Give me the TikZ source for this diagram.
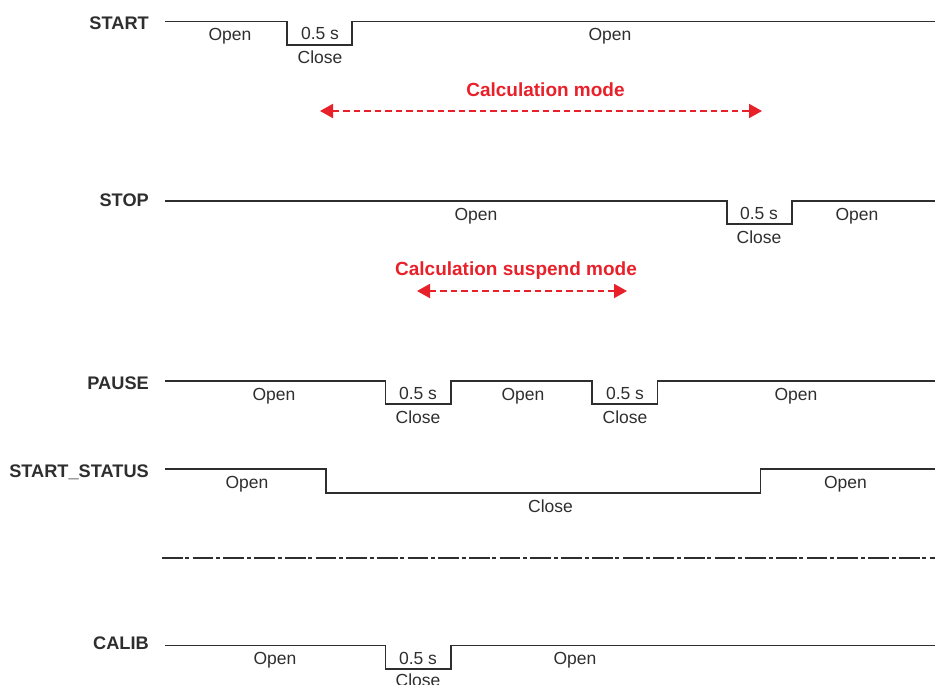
\documentclass[tikz,border=0pt]{standalone}
\usepackage{fontspec}
\setmainfont{Liberation Sans}
\usetikzlibrary{arrows.meta}
\usepackage{xcolor}
\definecolor{ink}{HTML}{2E2E2E}
\definecolor{modered}{HTML}{E8202A}
\newcommand{\sigfont}{\fontsize{17.5}{21}\selectfont}

\begin{document}
\begin{tikzpicture}[
    x=1pt, y=-1pt,
    wave/.style={draw=ink, line width=1.9pt},
    sig/.style={font=\fontsize{18.2}{21}\selectfont\bfseries, text=ink, anchor=base east, inner sep=0pt},
    lvl/.style={font=\sigfont, text=ink, anchor=base, inner sep=0pt},
    mode/.style={font=\fontsize{19}{22}\selectfont\bfseries, text=modered, anchor=base, inner sep=0pt},
    span/.style={{Triangle[length=13pt, width=14pt]}-{Triangle[length=13pt, width=14pt]}, draw=modered, line width=2pt, dash pattern=on 6.5pt off 4pt}
]
\useasboundingbox (0,0) rectangle (935,685);

% START
\node[sig] (start) at (149,29.3) {START};
\draw[wave] (165,21.5) -- (287,21.5) -- (287,45) -- (352,45) -- (352,21.5) -- (935,21.5);
\node[lvl] (start-open1) at (230,40.5) {Open};
\node[lvl] (start-dur) at (320,40) {0.5 s};
\node[lvl] (start-close) at (320,63.5) {Close};
\node[lvl] (start-open2) at (610,40.5) {Open};

% Calculation mode
\node[mode] (calc-text) at (545.5,96) {Calculation mode};
\coordinate (calc-l) at (320,111);
\coordinate (calc-r) at (762,111);
\draw[span] (calc-l) -- (calc-r);

% STOP
\node[sig] (stop) at (149,206) {STOP};
\draw[wave] (165,201) -- (727,201) -- (727,224) -- (792,224) -- (792,201) -- (935,201);
\node[lvl] (stop-open1) at (476,220) {Open};
\node[lvl] (stop-dur) at (759,219.5) {0.5 s};
\node[lvl] (stop-close) at (759,243) {Close};
\node[lvl] (stop-open2) at (857,220) {Open};

% Calculation suspend mode
\node[mode] (susp-text) at (516,275) {Calculation suspend mode};
\coordinate (susp-l) at (417,291);
\coordinate (susp-r) at (627,291);
\draw[span] (susp-l) -- (susp-r);

% PAUSE
\node[sig] (pause) at (149,389) {PAUSE};
\draw[wave] (165,381) -- (385.5,381) -- (385.5,404) -- (451,404) -- (451,381)
    -- (592,381) -- (592,404) -- (657.5,404) -- (657.5,381) -- (935,381);
\node[lvl] (pause-open1) at (274,400) {Open};
\node[lvl] (pause-dur1) at (418,399.5) {0.5 s};
\node[lvl] (pause-close1) at (418,423) {Close};
\node[lvl] (pause-open2) at (523,400) {Open};
\node[lvl] (pause-dur2) at (625,399.5) {0.5 s};
\node[lvl] (pause-close2) at (625,423) {Close};
\node[lvl] (pause-open3) at (796,400) {Open};

% START_STATUS
\node[sig] (status) at (149,477.3) {START\_STATUS};
\draw[wave] (165,469) -- (326,469) -- (326,493) -- (760.5,493) -- (760.5,469) -- (935,469);
\node[lvl] (status-open1) at (247,488) {Open};
\node[lvl] (status-close) at (550.5,512) {Close};
\node[lvl] (status-open2) at (845.5,488) {Open};

% separator
\draw[wave, dash pattern=on 20.7pt off 2.7pt on 4pt off 3.3pt] (162,558) -- (935,558);

% CALIB
\node[sig] (calib) at (149,649) {CALIB};
\draw[wave] (165,645.5) -- (385.5,645.5) -- (385.5,669) -- (451,669) -- (451,645.5) -- (935,645.5);
\node[lvl] (calib-open1) at (275,664.5) {Open};
\node[lvl] (calib-dur) at (418,664) {0.5 s};
\node[lvl] (calib-close) at (418,686) {Close};
\node[lvl] (calib-open2) at (575,664.5) {Open};

\end{tikzpicture}
\end{document}
